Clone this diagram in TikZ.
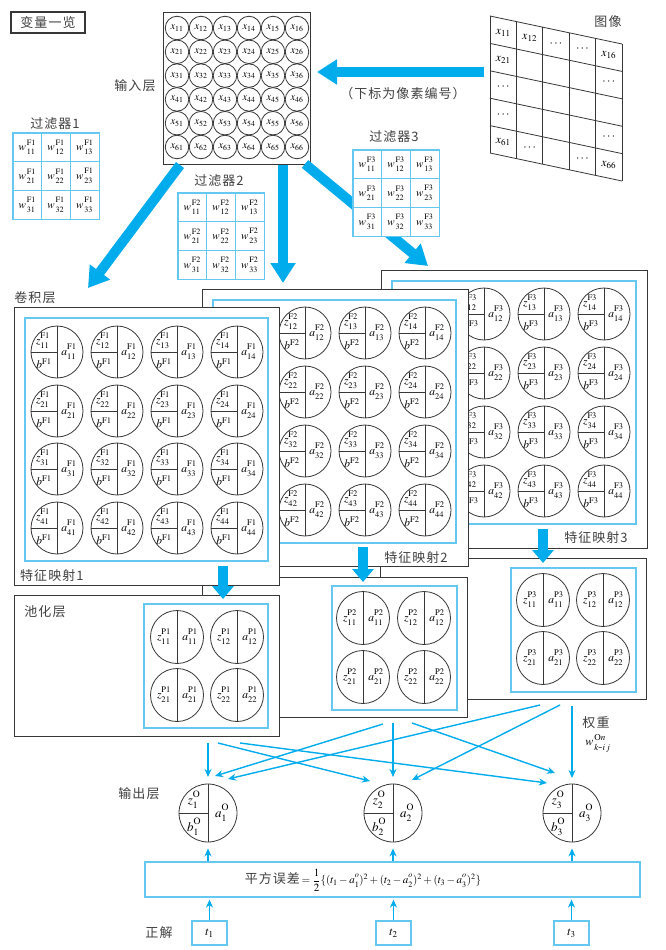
\documentclass[tikz,border=0pt]{standalone}
\usepackage{mathptmx}
\usepackage[no-math]{fontspec}
\newfontfamily\cjk[LetterSpace=8]{Noto Sans CJK SC}
\usetikzlibrary{arrows.meta}
\definecolor{arrowblue}{RGB}{0,172,236}
\definecolor{boxblue}{RGB}{100,200,240}
\definecolor{linegray}{RGB}{55,55,55}
\definecolor{labgray}{RGB}{65,65,65}
\newcommand{\sps}[2]{^{\raisebox{1.6pt}{$\scriptstyle #1$}}_{\raisebox{-1.2pt}{$\scriptstyle #2$}}}
\tikzset{
  lab/.style={font=\cjk\fontsize{13}{15}\selectfont, text=labgray, inner sep=0pt},
  layerbox/.style={draw=linegray, line width=1pt, fill=white, inner sep=0pt, outer sep=0pt},
  bluebox/.style={draw=boxblue, line width=1.2pt, inner sep=0pt, outer sep=0pt},
  fcell/.style={draw=boxblue, line width=1.2pt, fill=white, minimum size=28.7pt, inner sep=0pt, font=\fontsize{11}{12}\selectfont},
  incirc/.style={circle, draw=linegray, line width=0.8pt, minimum size=23.5pt, inner sep=0pt, font=\fontsize{10.5}{11}\selectfont},
  ncirc/.style={circle, draw=linegray, line width=0.8pt, minimum size=52pt, inner sep=0pt},
  cline/.style={draw=linegray, line width=0.8pt},
  imgline/.style={draw=linegray, line width=0.8pt},
  mt/.style={inner sep=0pt, font=\fontsize{11.5}{12}\selectfont},
  bigarrow/.style={draw=arrowblue, line width=10pt, -{Triangle[width=24pt,length=20pt]}},
  midarrow/.style={draw=arrowblue, line width=10pt, -{Triangle[width=21pt,length=13pt]}},
  thinarrow/.style={draw=arrowblue, line width=1.4pt, -{Stealth[length=8pt,width=7pt]}},
  tbox/.style={draw=boxblue, line width=1.2pt, minimum width=35pt, minimum height=24pt, inner sep=0pt, font=\fontsize{12}{13}\selectfont},
}
\newcommand{\fmcell}[5]{%
  \node[ncirc] (#1) at (#2,#3) {};
  \draw[cline] (#1.north) -- (#1.south);
  \draw[cline] (#1.west) -- (#1.center);
  \node[mt] at ({#2-14},{#3-11}) {$z\sps{\mathrm{#4}}{#5}$};
  \node[mt] at ({#2-13},{#3+12}) {$b^{\mathrm{#4}}$};
  \node[mt] at ({#2+12},{#3}) {$a\sps{\mathrm{#4}}{#5}$};
}
\newcommand{\plcell}[5]{%
  \node[ncirc, minimum size=53pt] (#1) at (#2,#3) {};
  \draw[cline] (#1.north) -- (#1.south);
  \node[mt] at ({#2-13},{#3}) {$z\sps{\mathrm{#4}}{#5}$};
  \node[mt] at ({#2+13},{#3}) {$a\sps{\mathrm{#4}}{#5}$};
}
\newcommand{\outcell}[4]{%
  \node[ncirc, minimum size=58pt] (#1) at (#2,#3) {};
  \draw[cline] (#1.north) -- (#1.south);
  \draw[cline] (#1.west) -- (#1.center);
  \node[mt, font=\fontsize{13}{14}\selectfont] at ({#2-14},{#3-13}) {$z\sps{\mathrm{O}}{#4}$};
  \node[mt, font=\fontsize{13}{14}\selectfont] at ({#2-14},{#3+14}) {$b\sps{\mathrm{O}}{#4}$};
  \node[mt, font=\fontsize{13}{14}\selectfont] at ({#2+14},{#3}) {$a\sps{\mathrm{O}}{#4}$};
}
\newcommand{\imtext}[3]{%
  \node[mt, font=\fontsize{12}{13}\selectfont] at ({490+26.4*(#2+0.5)},{16+27.4*(#1+0.5)+5.6*(#2+0.5)}) {$#3$};
}
\begin{document}
\begin{tikzpicture}[x=1pt,y=-1pt]
\useasboundingbox (0,0) rectangle (665,950);
\fill[white] (0,0) rectangle (665,950);

% title
\node[draw=linegray, line width=1.2pt, minimum width=74pt, minimum height=21pt, inner sep=0pt, font=\cjk\fontsize{13}{15}\selectfont, text=labgray] (title) at (48,22.5) {变量一览};

% image grid
\foreach \r in {0,...,5} \draw[imgline] (490,{16+27.4*\r}) -- (622,{44+27.4*\r});
\foreach \c in {0,...,5} \draw[imgline] ({490+26.4*\c},{16+5.6*\c}) -- ({490+26.4*\c},{16+137+5.6*\c});
\imtext{0}{0}{x_{11}}\imtext{0}{1}{x_{12}}\imtext{0}{2}{\cdots}\imtext{0}{3}{\cdots}\imtext{0}{4}{x_{16}}
\imtext{1}{0}{x_{21}}\imtext{1}{4}{\cdots}
\imtext{2}{0}{\cdots}
\imtext{3}{0}{\cdots}\imtext{3}{4}{\cdots}
\imtext{4}{0}{x_{61}}\imtext{4}{1}{\cdots}\imtext{4}{3}{\cdots}\imtext{4}{4}{x_{66}}
\node[lab] (imglab) at (608,22) {图像};
\node[lab] (imgnote) at (403,94) {（下标为像素编号）};
\coordinate (imgL) at (484,72);

% input layer
\node[layerbox, minimum width=147pt, minimum height=151pt] (inp) at (236.5,88.5) {};
\foreach \i in {1,...,6} \foreach \j in {1,...,6}
  \node[incirc] (x\i\j) at ({177+24*(\j-1)},{28+23.8*(\i-1)}) {$x_{\i\j}$};
\node[lab] (inplab) at (135,86) {输入层};
\draw[bigarrow] (imgL) -- ([xshift=7pt]inp.east |- imgL);

% big arrows to conv layer
\coordinate (c1s) at (180,165); \coordinate (c1t) at (88,288);
\coordinate (c2s) at (283,165); \coordinate (c2t) at (283,283);
\coordinate (c3s) at (305,164); \coordinate (c3t) at (428,266);
\draw[bigarrow] (c1s) -- (c1t);
\draw[bigarrow] (c2s) -- (c2t);
\draw[bigarrow] (c3s) -- (c3t);

% filters
\node[lab] (f1lab) at (55,124) {过滤器1};
\node[lab] (f2lab) at (219,181) {过滤器2};
\node[lab] (f3lab) at (394,137) {过滤器3};
\foreach \i in {1,2,3} \foreach \j in {1,2,3} {
  \node[fcell] (fa\i\j) at ({13+28.7*(\j-0.5)},{133+28.7*(\i-0.5)}) {$w\sps{\,\mathrm{F1}}{\,\i\j}$};
  \node[fcell] (fb\i\j) at ({178+28.7*(\j-0.5)},{193+28.7*(\i-0.5)}) {$w\sps{\,\mathrm{F2}}{\,\i\j}$};
  \node[fcell] (fc\i\j) at ({353+28.7*(\j-0.5)},{150+28.7*(\i-0.5)}) {$w\sps{\,\mathrm{F3}}{\,\i\j}$};
}

% feature map 3 (column 1 lies wholly behind feature map 2)
\node[layerbox, minimum width=266pt, minimum height=278pt] (fm3) at (514,409) {};
\node[bluebox, minimum width=244pt, minimum height=243pt] (fm3in) at (514,402.5) {};
\foreach \i/\y in {1/314,2/373,3/432,4/491} \foreach \j/\x in {2/484,3/544,4/604}
  {\fmcell{fmc\i\j}{\x}{\y}{F3}{\i\j}}
\node[lab] (fm3lab) at (596,538) {特征映射3};

% pool 3
\node[layerbox, minimum width=266pt, minimum height=141pt] (pl3) at (513,628.5) {};
\node[bluebox, minimum width=125pt, minimum height=124pt] (pl3in) at (573.5,630) {};
\foreach \i/\y in {1/600,2/658} \foreach \j/\x in {1/543,2/603}
  {\plcell{plc\i\j}{\x}{\y}{P3}{\i\j}}
\coordinate (a3s) at (543,529); \coordinate (a3t) at (543,563);
\draw[midarrow] (a3s) -- (a3t);

% feature map 2 (column 1 lies wholly behind feature map 1)
\node[layerbox, minimum width=266pt, minimum height=277pt] (fm2) at (335,427.5) {};
\node[bluebox, minimum width=243pt, minimum height=243pt] (fm2in) at (334.5,421.5) {};
\foreach \i/\y in {1/333,2/392,3/451,4/510} \foreach \j/\x in {2/305,3/365,4/425}
  {\fmcell{fmb\i\j}{\x}{\y}{F2}{\i\j}}
\node[lab] (fm2lab) at (416,558) {特征映射2};

% pool 2
\node[layerbox, minimum width=265pt, minimum height=140pt] (pl2) at (334.5,647) {};
\node[bluebox, minimum width=125pt, minimum height=124pt] (pl2in) at (394.5,648) {};
\foreach \i/\y in {1/618,2/677} \foreach \j/\x in {1/363,2/424}
  {\plcell{plb\i\j}{\x}{\y}{P2}{\i\j}}
\coordinate (a2s) at (363,547); \coordinate (a2t) at (363,582);
\draw[midarrow] (a2s) -- (a2t);

% feature map 1
\node[lab] (convlab) at (35,298) {卷积层};
\node[layerbox, minimum width=265pt, minimum height=278pt] (fm1) at (146.5,446) {};
\node[bluebox, minimum width=243pt, minimum height=243pt] (fm1in) at (146.5,439.5) {};
\foreach \i/\y in {1/352,2/411,3/469,4/528} \foreach \j/\x in {1/57,2/117,3/177,4/237}
  {\fmcell{fma\i\j}{\x}{\y}{F1}{\i\j}}
\node[lab, anchor=west] (fm1lab) at (20,576) {特征映射1};

% pool 1
\node[layerbox, minimum width=265pt, minimum height=141pt] (pl1) at (146.5,665.5) {};
\node[bluebox, minimum width=124pt, minimum height=124pt] (pl1in) at (206,666) {};
\foreach \i/\y in {1/637,2/695} \foreach \j/\x in {1/177,2/237}
  {\plcell{pla\i\j}{\x}{\y}{P1}{\i\j}}
\node[lab] (poollab) at (45,612) {池化层};
\coordinate (a1s) at (223,566); \coordinate (a1t) at (223,599);
\draw[midarrow] (a1s) -- (a1t);

% output layer
\outcell{o1}{208}{813}{1}
\outcell{o2}{393}{813}{2}
\outcell{o3}{572}{813}{3}
\node[lab] (outlab) at (139,794) {输出层};
\node[lab] (wlab) at (596,723) {权重};
\node[mt, font=\fontsize{12}{13}\selectfont] (wsym) at (598,743) {$w\sps{\,\mathrm{O}n}{\,k\mbox{-}i\,j}$};

\coordinate (s11) at (208,743); \coordinate (e11) at (208,777);
\coordinate (s12) at (218,743); \coordinate (e12) at (370,781);
\coordinate (s13) at (240,743); \coordinate (e13) at (547,783);
\coordinate (s21) at (383,724); \coordinate (e21) at (215,776);
\coordinate (s22) at (393,723); \coordinate (e22) at (393,777);
\coordinate (s23) at (412,723); \coordinate (e23) at (555,773);
\coordinate (s31) at (540,705); \coordinate (e31) at (228,779);
\coordinate (s32) at (560,705); \coordinate (e32) at (412,780);
\coordinate (s33) at (572,706); \coordinate (e33) at (572,778);
\foreach \a in {11,12,13,21,22,23,31,32,33} \draw[thinarrow] (s\a) -- (e\a);

% error box
\node[draw=boxblue, line width=1.2pt, minimum width=495pt, minimum height=35pt, inner sep=0pt] (err) at (392.5,879.5) {};
\node[inner sep=0pt] (errtxt) at (363,880) {{\cjk\fontsize{13}{15}\selectfont\color{labgray}平方误差}\,{\fontsize{11}{12}\selectfont$=\displaystyle\frac{1}{2}\{(t_1-a\sps{o}{1})^2+(t_2-a\sps{o}{2})^2+(t_3-a\sps{o}{3})^2\}$}};
\foreach \k in {1,2,3} \draw[thinarrow, shorten >=6pt] (err.north -| o\k) -- (o\k.south);

% targets
\node[tbox] (t1) at (209.5,933) {$t_1$};
\node[tbox] (t2) at (393.5,933) {$t_2$};
\node[tbox] (t3) at (571.5,933) {$t_3$};
\node[lab] (anslab) at (159,933) {正解};
\foreach \k in {1,2,3} \draw[thinarrow, shorten >=2pt] (t\k.north) -- (err.south -| t\k);
\end{tikzpicture}
\end{document}
